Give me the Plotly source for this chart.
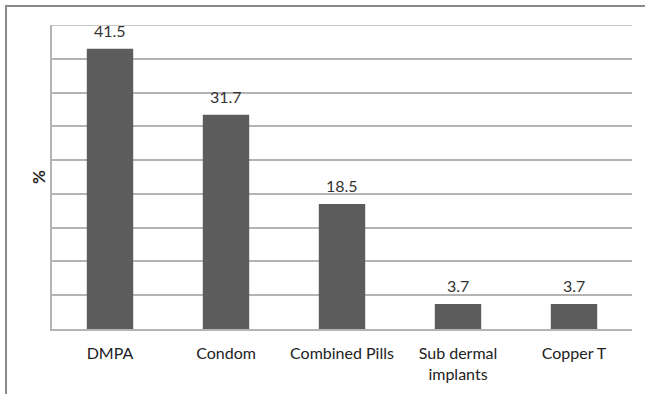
import plotly.graph_objects as go

# Contraceptive methods and share of users (%)
methods = ["DMPA", "Condom", "Combined Pills", "Sub dermal<br>implants", "Copper T"]
shares = [41.5, 31.7, 18.5, 3.7, 3.7]
value_labels = ["41.5", "31.7", "18.5", "3.7", "3.7"]
y_max = 45

FONT = "Lato, Carlito, Calibri, sans-serif"
BAR = "#5c5c5c"
GRID = "#b4b4b4"

fig = go.Figure(
    go.Bar(
        x=methods,
        y=shares,
        marker=dict(color=BAR, line=dict(width=0)),
        width=0.4,
        hoverinfo="x+y",
    )
)

# value labels above each bar
for m, v, t in zip(methods, shares, value_labels):
    fig.add_annotation(
        x=m, y=v, text=t, showarrow=False,
        yanchor="bottom", yshift=7,
        font=dict(family=FONT, size=16, color="#333333"),
    )

W, H = 645, 394
L, R, T, B = 52, 13, 25, 65
pw, ph = W - L - R, H - T - B

def px_x(p):
    return (p - L) / pw

def px_y(p):
    return (H - B - p) / ph

# top gridline closing the value range
fig.add_shape(
    type="line", xref="paper", yref="y",
    x0=0, x1=1, y0=y_max, y1=y_max,
    line=dict(color=GRID, width=1.5), layer="below",
)

# outer chart frame
fig.add_shape(
    type="rect", xref="paper", yref="paper",
    x0=px_x(6), x1=px_x(660), y0=px_y(410), y1=px_y(6),
    line=dict(color="#8a8a8a", width=2), fillcolor="rgba(0,0,0,0)",
    layer="below",
)

fig.update_layout(
    width=W, height=H,
    margin=dict(l=L, r=R, t=T, b=B),
    paper_bgcolor="white",
    plot_bgcolor="white",
    showlegend=False,
    font=dict(family=FONT, size=16, color="#333333"),
    xaxis=dict(
        showgrid=False,
        showline=True, linecolor=GRID, linewidth=1.5,
        ticks="", ticklabelstandoff=9,
        tickfont=dict(family=FONT, size=16, color="#222222"),
        automargin=False,
        fixedrange=True,
    ),
    yaxis=dict(
        range=[0, y_max], dtick=5,
        showticklabels=False,
        showgrid=True, gridcolor=GRID, gridwidth=1.5,
        showline=True, linecolor=GRID, linewidth=1.5,
        zeroline=False,
        title=dict(text="<b>%</b>", standoff=0,
                   font=dict(family=FONT, size=17, color="#222222")),
        automargin=False,
        fixedrange=True,
    ),
)

fig.write_html("out.html")
